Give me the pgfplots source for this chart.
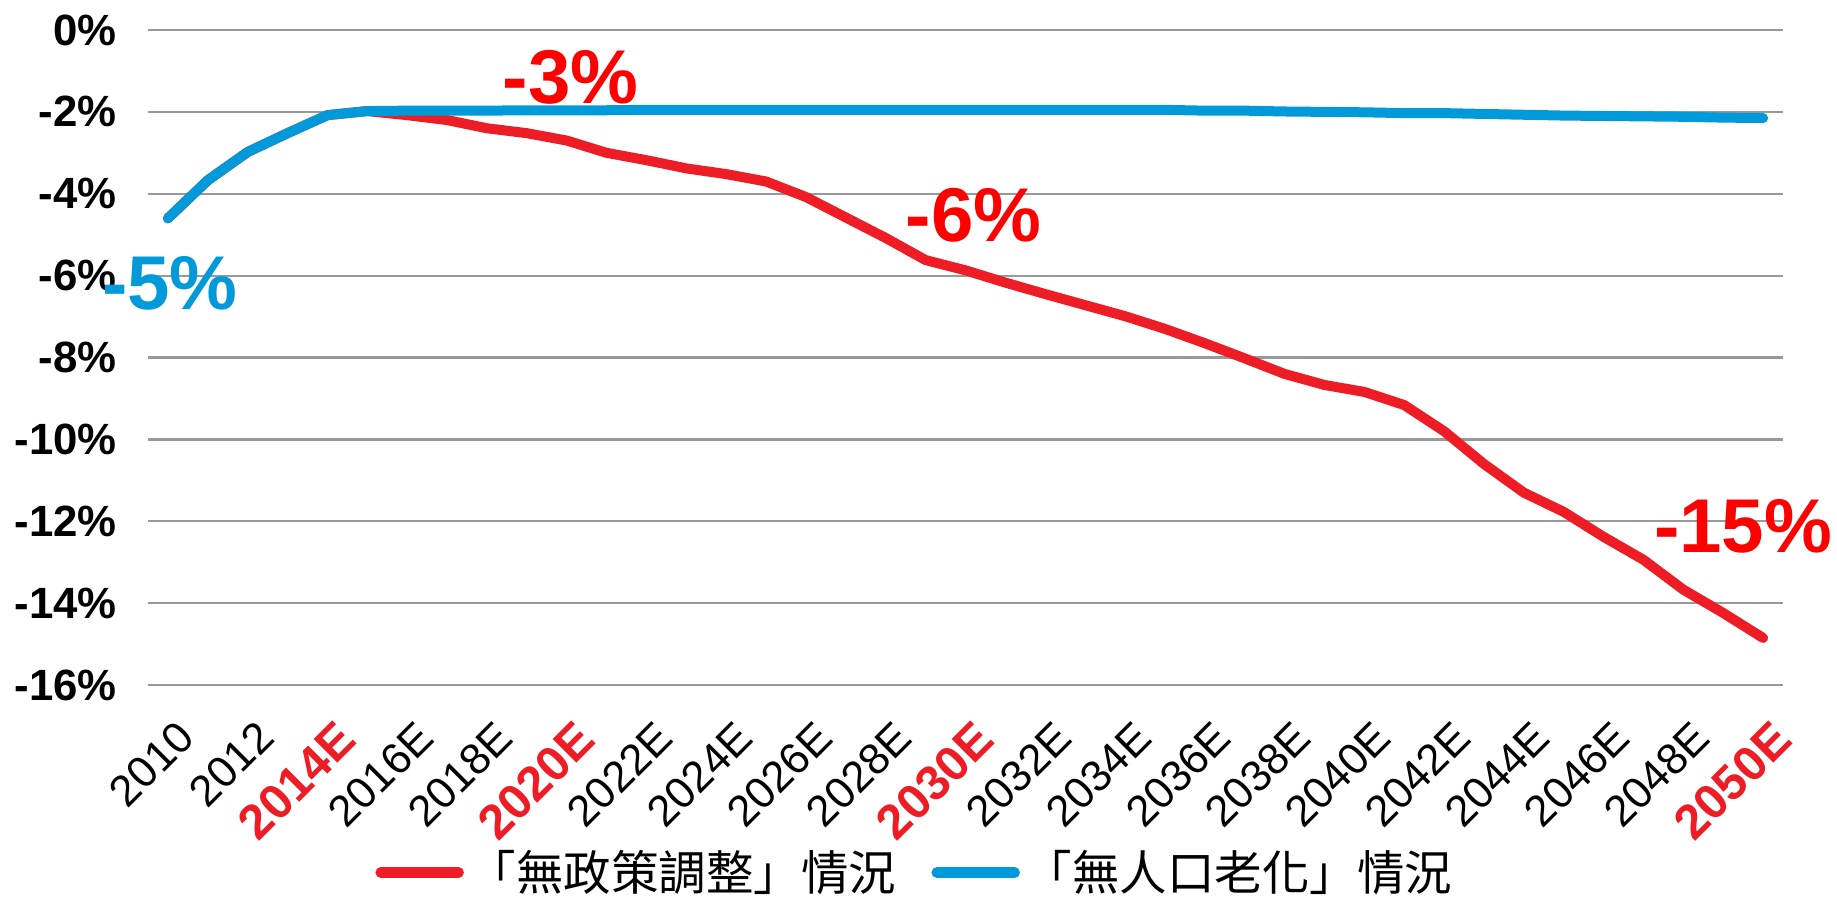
\documentclass[border=0pt]{standalone}
\usepackage{graphicx}
\usepackage{pgfplots}
\pgfplotsset{compat=1.18}
\usepackage{fontspec}
\setmainfont{Liberation Sans}
\newfontfamily\cjk{Noto Sans CJK TC}
\definecolor{lred}{HTML}{EE1C25}
\definecolor{lblue}{HTML}{0099DA}
\definecolor{ared}{HTML}{FF0000}
\definecolor{gridgray}{HTML}{999999}
\newcommand{\rl}[1]{{\fontsize{19.5}{22}\selectfont\textbf{\textcolor{lred}{#1}}}\hspace{-10pt}}
\begin{document}
\begin{tikzpicture}
\begin{axis}[
  scale only axis, width=654pt, height=262pt,
  xmin=2009.5, xmax=2050.5, ymin=-16, ymax=0,
  clip=false,
  axis line style={draw=none}, major tick length=0pt,
  ymajorgrids, grid style={gridgray, line width=0.9pt},
  xtick={2010,2012,...,2050},
  xticklabels={2010,2012,\rl{2014E},2016E,2018E,\rl{2020E},2022E,2024E,2026E,2028E,\rl{2030E},2032E,2034E,2036E,2038E,2040E,2042E,2044E,2046E,2048E,\rl{2050E}},
  ytick={-16,-14,...,0},
  yticklabels={-16\%,-14\%,-12\%,-10\%,-8\%,-6\%,-4\%,-2\%,0\%},
  yticklabel style={font=\bfseries\fontsize{17.5}{20}\selectfont, xshift=-9pt},
  xticklabel style={font=\fontsize{17.5}{20}\selectfont, rotate=45, anchor=north east, yshift=-8pt, xshift=-4pt},
  legend columns=2,
  legend style={draw=none, fill=none, at={(axis description cs:0.47,0)}, anchor=center, yshift=-75pt,
    font=\cjk\fontsize{19}{22}\selectfont, inner sep=0pt,
    /tikz/every even column/.append style={column sep=12pt}},
  legend image code/.code={\draw[#1, line width=4.4pt, line cap=round] (0pt,0pt) -- (31pt,0pt);},
]
\addplot[lred, line width=4pt, line join=round, line cap=round] coordinates {
(2010,-4.6) (2011,-3.67) (2012,-2.98) (2013,-2.52) (2014,-2.08) (2015,-1.98)
(2016,-2.08) (2017,-2.2) (2018,-2.4) (2019,-2.52) (2020,-2.7) (2021,-3.0)
(2022,-3.18) (2023,-3.38) (2024,-3.52) (2025,-3.7) (2026,-4.08) (2027,-4.58)
(2028,-5.08) (2029,-5.62) (2030,-5.87) (2031,-6.17) (2032,-6.45) (2033,-6.72)
(2034,-6.99) (2035,-7.3) (2036,-7.65) (2037,-8.02) (2038,-8.4) (2039,-8.67)
(2040,-8.84) (2041,-9.16) (2042,-9.8) (2043,-10.6) (2044,-11.3) (2045,-11.77)
(2046,-12.38) (2047,-12.94) (2048,-13.67) (2049,-14.24) (2050,-14.85)
};
\addlegendentry{「無政策調整」情況}
\addplot[lblue, line width=4pt, line join=round, line cap=round] coordinates {
(2010,-4.6) (2011,-3.67) (2012,-2.98) (2013,-2.52) (2014,-2.08) (2015,-1.98)
(2016,-1.97) (2017,-1.97) (2018,-1.97) (2019,-1.96) (2020,-1.96) (2021,-1.96)
(2022,-1.95) (2023,-1.95) (2024,-1.95) (2025,-1.95) (2026,-1.95) (2027,-1.95)
(2028,-1.95) (2029,-1.95) (2030,-1.95) (2031,-1.95) (2032,-1.95) (2033,-1.95)
(2034,-1.95) (2035,-1.95) (2036,-1.97) (2037,-1.97) (2038,-1.99) (2039,-2.0)
(2040,-2.01) (2041,-2.03) (2042,-2.03) (2043,-2.05) (2044,-2.07) (2045,-2.09)
(2046,-2.1) (2047,-2.11) (2048,-2.12) (2049,-2.14) (2050,-2.15)
};
\addlegendentry{「無人口老化」情況}
\node[font=\bfseries\fontsize{30.5}{33}\selectfont, text=ared] at (axis cs:2020.1,-1.15) {-3\%};
\node[font=\bfseries\fontsize{30.5}{33}\selectfont, text=ared] at (axis cs:2030.2,-4.52) {-6\%};
\node[font=\bfseries\fontsize{30.5}{33}\selectfont, text=ared] at (axis cs:2049.5,-12.12) {-15\%};
\node[font=\bfseries\fontsize{30.5}{33}\selectfont, text=lblue] at (axis cs:2010.05,-6.18) {-5\%};
\coordinate (bbsw) at (rel axis cs:-0.0905,-0.3374);
\coordinate (bbne) at (rel axis cs:1.033,1.0458);
\end{axis}
\pgfresetboundingbox
\path (bbsw) rectangle (bbne);
\end{tikzpicture}
\end{document}
